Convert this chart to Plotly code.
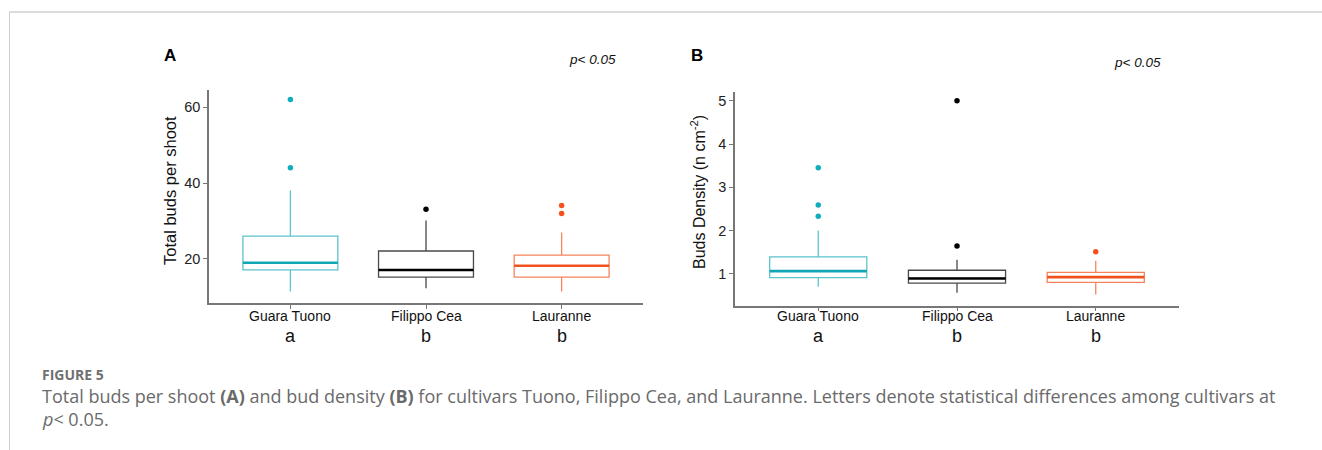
import plotly.graph_objects as go

W, H = 1322, 450

cultivars = ["Guara Tuono", "Filippo Cea", "Lauranne"]
letters_a = ["a", "b", "b"]
letters_b = ["a", "b", "b"]

# Panel A: total buds per shoot
a_low = [11.4, 12.3, 11.4]
a_q1 = [17.1, 15.2, 15.2]
a_med = [19.0, 17.1, 18.2]
a_q3 = [26.0, 22.1, 21.0]
a_high = [38.0, 30.1, 27.0]
a_out = [[62.0, 44.0], [33.1], [34.1, 32.0]]

# Panel B: bud density
b_low = [0.70, 0.56, 0.52]
b_q1 = [0.91, 0.78, 0.80]
b_med = [1.06, 0.89, 0.92]
b_q3 = [1.39, 1.08, 1.03]
b_high = [2.00, 1.32, 1.30]
b_out = [[3.45, 2.59, 2.33], [5.0, 1.64], [1.51]]

line_cols = ["#5cc4cd", "#4a4a4a", "#f5845c"]
med_cols = ["#12a5b3", "#000000", "#f0521f"]
pt_cols = ["#10aebc", "#000000", "#f4511e"]

pos = [1, 2, 3]
BW = 0.70

fig = go.Figure()


def add_panel(xa, ya, low, q1, med, q3, high, outs):
    for i in range(3):
        fig.add_trace(go.Box(
            x=[pos[i]], q1=[q1[i]], median=[med[i]], q3=[q3[i]],
            lowerfence=[low[i]], upperfence=[high[i]],
            width=BW, whiskerwidth=0, boxpoints=False,
            line=dict(color=line_cols[i], width=1.3),
            fillcolor="rgba(255,255,255,0)",
            xaxis=xa, yaxis=ya, showlegend=False, hoverinfo="skip"))
        fig.add_trace(go.Scatter(
            x=[pos[i] - BW / 2, pos[i] + BW / 2], y=[med[i], med[i]],
            mode="lines", line=dict(color=med_cols[i], width=2.6),
            xaxis=xa, yaxis=ya, showlegend=False, hoverinfo="skip"))
        fig.add_trace(go.Scatter(
            x=[pos[i]] * len(outs[i]), y=outs[i], mode="markers",
            marker=dict(color=pt_cols[i], size=5.5, symbol="circle"),
            xaxis=xa, yaxis=ya, showlegend=False, hoverinfo="skip"))


add_panel("x", "y", a_low, a_q1, a_med, a_q3, a_high, a_out)
add_panel("x2", "y2", b_low, b_q1, b_med, b_q3, b_high, b_out)

axis_font = dict(family="Liberation Sans, Arial", size=14.5, color="#222")
common_x = dict(range=[0.4, 3.6], tickvals=pos, showticklabels=False,
                showline=True, linecolor="#777", linewidth=1.5,
                ticks="outside", ticklen=4, tickcolor="#777",
                showgrid=False, zeroline=False)
common_y = dict(showline=True, linecolor="#777", linewidth=1.5,
                ticks="outside", ticklen=4, tickcolor="#777",
                showgrid=False, zeroline=False, tickfont=axis_font)

fig.update_layout(
    width=W, height=H,
    margin=dict(l=0, r=0, t=0, b=0),
    paper_bgcolor="white", plot_bgcolor="white",
    xaxis=dict(domain=[209 / W, 643 / W], anchor="y", **common_x),
    yaxis=dict(domain=[1 - 303 / H, 1 - 90 / H], range=[8.4, 64.5],
               tickvals=[20, 40, 60], anchor="x", **common_y),
    xaxis2=dict(domain=[735 / W, 1179 / W], anchor="y2", **common_x),
    yaxis2=dict(domain=[1 - 305.7 / H, 1 - 91.7 / H], range=[0.26, 5.21],
                tickvals=[1, 2, 3, 4, 5], anchor="x2", **common_y),
)

ann = []


def px(x, y, text, size, color="#111", xanchor="center", angle=0, family="Liberation Sans, Arial"):
    ann.append(dict(x=x / W, y=1 - y / H, xref="paper", yref="paper", text=text,
                    showarrow=False, xanchor=xanchor, yanchor="middle",
                    textangle=angle, font=dict(family=family, size=size, color=color)))


# panel labels & p-values
px(170, 55, "<b>A</b>", 17, "#000")
px(592, 60, "<i>p< 0.05</i>", 13.5, "#111")
px(697, 55, "<b>B</b>", 17, "#000")
px(1137, 62, "<i>p< 0.05</i>", 13.5, "#111")

# axis titles
px(170, 191, "Total buds per shoot", 16.5, "#111", angle=-90)
px(698, 192, "Buds Density (n cm<sup>-2</sup>)", 16, "#111", angle=-90)

# category labels and significance letters
for xr, letters in (("x", letters_a), ("x2", letters_b)):
    for i in range(3):
        ann.append(dict(x=pos[i], y=1 - 316 / H, xref=xr, yref="paper", text=cultivars[i],
                        showarrow=False, xanchor="center", yanchor="middle",
                        font=dict(family="Liberation Sans, Arial", size=14, color="#111")))
        ann.append(dict(x=pos[i], y=1 - 336 / H, xref=xr, yref="paper", text=letters[i],
                        showarrow=False, xanchor="center", yanchor="middle",
                        font=dict(family="Liberation Sans, Arial", size=18, color="#111")))

# caption
cap_font = "Open Sans, Lato, sans-serif"
px(40, 374, "<b>FIGURE 5</b>", 14, "#707070", xanchor="left", family=cap_font)
px(40, 396, "Total buds per shoot <b>(A)</b> and bud density <b>(B)</b> for cultivars Tuono, Filippo Cea, and Lauranne. "
            "Letters denote statistical differences among cultivars at", 18, "#6a6a6a", xanchor="left", family=cap_font)
px(40, 419, "<i>p</i>< 0.05.", 18, "#6a6a6a", xanchor="left", family=cap_font)

fig.update_layout(annotations=ann)

# page frame
fig.add_shape(type="line", xref="paper", yref="paper", x0=9 / W, x1=1, y0=1 - 12 / H, y1=1 - 12 / H,
              line=dict(color="#dcdcdc", width=2))
fig.add_shape(type="line", xref="paper", yref="paper", x0=9.5 / W, x1=9.5 / W, y0=0, y1=1 - 12 / H,
              line=dict(color="#cfcfcf", width=1))

fig.write_html("out.html", config={"displayModeBar": False},
               post_script="document.body.style.margin='0';document.body.style.overflow='hidden';")
